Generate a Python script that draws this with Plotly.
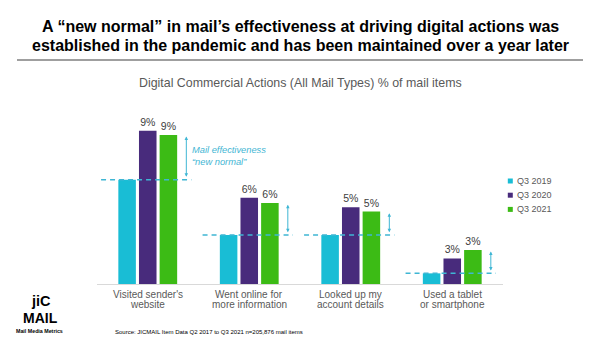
import plotly.graph_objects as go

# ---------------- data ----------------
categories = ["Visited sender's<br>website", "Went online for<br>more information",
              "Looked up my<br>account details", "Used a tablet<br>or smartphone"]
series_names = ["Q3 2019", "Q3 2020", "Q3 2021"]
q3_2019 = [6.7, 4.1, 4.1, 2.3]
q3_2020 = [9.0, 5.85, 5.4, 3.0]
q3_2021 = [8.8, 5.6, 5.2, 3.4]
show_labels = [False, True, True]

title_lines = ["A \u201cnew normal\u201d in mail\u2019s effectiveness at driving digital actions was",
               "established in the pandemic and has been maintained over a year later"]
subtitle = "Digital Commercial Actions (All Mail Types) % of mail items"
note_text = "<i>Mail effectiveness<br>\u201cnew normal\u201d</i>"
source_text = "Source: JICMAIL Item Data Q2 2017 to Q3 2021 n=205,876 mail items"

# ---------------- style ----------------
W, H = 600, 354
colors = ["#19BDD5", "#482B7C", "#3CBB15"]
accent = "#3FB6D4"
grey = "#595959"
FONT = "Liberation Sans, Arial, sans-serif"

def px(x):
    return x / W

def py(y):
    return 1 - y / H

fig = go.Figure()
all_series = [q3_2019, q3_2020, q3_2021]
for name, vals, col, lab in zip(series_names, all_series, colors, show_labels):
    fig.add_trace(go.Bar(
        x=categories, y=vals, name=name, marker_color=col,
        marker_line_width=0,
        text=[f"{round(v)}%" for v in vals] if lab else None,
        textposition="outside" if lab else "none",
        outsidetextfont=dict(size=10.5, color="#404040", family=FONT),
        cliponaxis=False, showlegend=False,
    ))

shapes = []
annotations = []

# dashed baseline ("old normal") lines and double arrows
for i, (base, new) in enumerate(zip(q3_2019, q3_2021)):
    shapes.append(dict(type="line", xref="x", yref="y", x0=i - 0.46, x1=i + 0.43,
                       y0=base, y1=base, line=dict(color=accent, width=1.5, dash="5px,4px")))
    annotations.append(dict(xref="x", yref="y", axref="x", ayref="y",
                            x=i + 0.38, y=new - 0.08, ax=i + 0.38, ay=base + 0.06,
                            text="", showarrow=True, arrowside="end+start",
                            arrowhead=2, arrowsize=0.7, arrowwidth=1, arrowcolor=accent,
                            standoff=0, startstandoff=0))

# note text
annotations.append(dict(xref="paper", yref="paper", x=px(190), y=py(155.5),
                        xanchor="left", yanchor="middle", text=note_text, showarrow=False,
                        align="left", font=dict(size=9.3, color=accent, family=FONT)))

# category labels (two lines each)
for c in categories:
    for j, line in enumerate(c.split("<br>")):
        annotations.append(dict(xref="x", yref="paper", x=c, y=py(294.3 + 10 * j),
                                xanchor="center", yanchor="middle", text=line, showarrow=False,
                                font=dict(size=10, color=grey, family=FONT)))

# legend
for k, (name, col) in enumerate(zip(series_names, colors)):
    yc = 181 + 14.2 * k
    shapes.append(dict(type="rect", xref="paper", yref="paper", x0=px(507.8), x1=px(512.8),
                       y0=py(yc + 2.5), y1=py(yc - 2.5), fillcolor=col, line_width=0))
    annotations.append(dict(xref="paper", yref="paper", x=px(515), y=py(yc),
                            xanchor="left", yanchor="middle", text=name, showarrow=False,
                            font=dict(size=9, color=grey, family=FONT)))

# titles
for j, t in enumerate(title_lines):
    annotations.append(dict(xref="paper", yref="paper", x=0.5, y=py(26.5 + 18.5 * j),
                            xanchor="center", yanchor="middle", text=f"<b>{t}</b>",
                            showarrow=False, font=dict(size=16, color="#000000", family=FONT)))
shapes.append(dict(type="line", xref="paper", yref="paper", x0=px(17), x1=px(583),
                   y0=py(60), y1=py(60), line=dict(color="#404040", width=1.2)))
annotations.append(dict(xref="paper", yref="paper", x=0.5, y=py(83.5), xanchor="center",
                        yanchor="middle", text=subtitle, showarrow=False,
                        font=dict(size=12.4, color=grey, family=FONT)))

# source
annotations.append(dict(xref="paper", yref="paper", x=px(113), y=py(331.5), xanchor="left",
                        yanchor="middle", text=source_text, showarrow=False,
                        font=dict(size=6, color="#000000", family=FONT)))

# logo
annotations.append(dict(xref="paper", yref="paper", x=px(41), y=py(301), xanchor="center",
                        yanchor="middle", text="<b>jiC</b>", showarrow=False,
                        font=dict(size=14.5, color="#000000", family=FONT)))
annotations.append(dict(xref="paper", yref="paper", x=px(40), y=py(317.5), xanchor="center",
                        yanchor="middle", text="<b>MAIL</b>", showarrow=False,
                        font=dict(size=14, color="#000000", family=FONT)))
annotations.append(dict(xref="paper", yref="paper", x=px(39.5), y=py(331), xanchor="center",
                        yanchor="middle", text="<b>Mail Media Metrics</b>", showarrow=False,
                        font=dict(size=5.3, color="#000000", family=FONT)))

fig.update_layout(
    width=W, height=H, margin=dict(l=0, r=0, t=0, b=0),
    paper_bgcolor="white", plot_bgcolor="white",
    barmode="group", bargap=0.39, bargroupgap=0.15,
    font=dict(family=FONT),
    xaxis=dict(domain=[px(97), px(503)], showticklabels=False, ticks="",
               showgrid=False, zeroline=False, showline=True, linecolor="#D9D9D9", linewidth=1),
    yaxis=dict(domain=[py(284), py(110)], range=[1.8, 1.8 + 174 / 21.3], visible=False,
               showgrid=False, zeroline=False),
    shapes=shapes, annotations=annotations, showlegend=False,
)

fig.write_html("out.html")
